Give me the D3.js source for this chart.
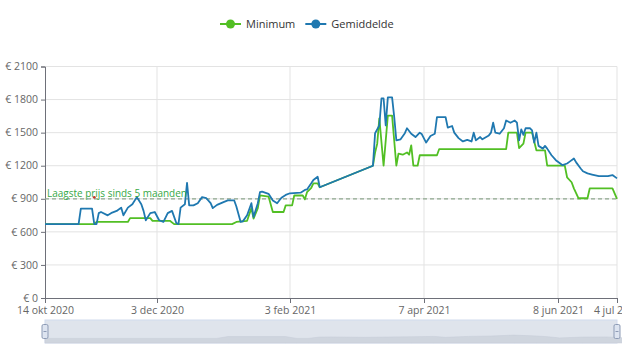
<!DOCTYPE html>
<html>
<head>
<meta charset="utf-8">
<script src="https://cdn.jsdelivr.net/npm/d3@7"></script>
<style>
  body { margin: 0; background: #fff; }
  svg { font-family: "Open Sans", "Noto Sans", sans-serif; }
</style>
</head>
<body>
<div id="chart"></div>
<script>
// series: Minimum
const minDates = ["2020-10-14","2020-11-05","2020-11-06","2020-11-20","2020-11-21","2020-11-30","2020-12-01","2020-12-09","2020-12-11",
  "2021-01-07","2021-01-09","2021-01-14","2021-01-16","2021-01-17","2021-01-19","2021-01-20","2021-01-24","2021-01-26","2021-01-31",
  "2021-02-01","2021-02-04","2021-02-05","2021-02-09","2021-02-10","2021-02-11","2021-02-13","2021-02-14","2021-02-16","2021-02-17",
  "2021-03-14","2021-03-15","2021-03-16","2021-03-17","2021-03-19","2021-03-21","2021-03-23","2021-03-25","2021-03-26","2021-03-28",
  "2021-03-30","2021-03-31","2021-04-01","2021-04-02","2021-04-04","2021-04-05","2021-04-13","2021-04-14","2021-05-15","2021-05-16",
  "2021-05-20","2021-05-21","2021-05-23","2021-05-24","2021-05-27","2021-05-28","2021-05-29","2021-06-02","2021-06-03","2021-06-11",
  "2021-06-12","2021-06-14","2021-06-15","2021-06-17","2021-06-21","2021-06-22","2021-07-02","2021-07-04"];
const minValues = [670,670,690,690,725,725,700,700,670,
  670,690,700,815,720,815,930,920,780,780,
  840,840,930,930,895,960,1000,1040,1040,1005,
  1200,1320,1400,1630,1200,1655,1655,1200,1310,1300,
  1320,1300,1385,1200,1200,1295,1295,1350,1350,1500,
  1500,1360,1400,1500,1500,1420,1340,1340,1200,1200,
  1095,1050,995,905,905,995,995,900];

// series: Gemiddelde
const avgDates = ["2020-10-14","2020-10-29","2020-10-30","2020-11-04","2020-11-05","2020-11-06","2020-11-07","2020-11-08","2020-11-11",
  "2020-11-13","2020-11-15","2020-11-17","2020-11-18","2020-11-20","2020-11-22","2020-11-24","2020-11-26","2020-11-27","2020-11-28",
  "2020-11-30","2020-12-02","2020-12-04","2020-12-06","2020-12-08","2020-12-10","2020-12-12","2020-12-13","2020-12-14","2020-12-16",
  "2020-12-17","2020-12-18","2020-12-20","2020-12-22","2020-12-24","2020-12-26","2020-12-28","2020-12-29","2020-12-31","2021-01-03",
  "2021-01-05","2021-01-08","2021-01-09","2021-01-11","2021-01-12","2021-01-14","2021-01-16","2021-01-17","2021-01-19","2021-01-20",
  "2021-01-21","2021-01-24","2021-01-26","2021-01-28","2021-01-30","2021-02-01","2021-02-03","2021-02-08","2021-02-10","2021-02-11",
  "2021-02-13","2021-02-14","2021-02-16","2021-02-17","2021-03-14","2021-03-15","2021-03-16","2021-03-17","2021-03-18","2021-03-19",
  "2021-03-20","2021-03-21","2021-03-23","2021-03-24","2021-03-25","2021-03-27","2021-03-29","2021-03-30","2021-04-01","2021-04-03",
  "2021-04-05","2021-04-06","2021-04-08","2021-04-10","2021-04-12","2021-04-13","2021-04-17","2021-04-18","2021-04-20","2021-04-21",
  "2021-04-23","2021-04-25","2021-04-27","2021-04-29","2021-04-30","2021-05-01","2021-05-03","2021-05-04","2021-05-07","2021-05-08",
  "2021-05-09","2021-05-10","2021-05-12","2021-05-14","2021-05-15","2021-05-17","2021-05-19","2021-05-20","2021-05-21","2021-05-22",
  "2021-05-23","2021-05-24","2021-05-26","2021-05-27","2021-05-28","2021-05-29","2021-05-30","2021-06-01","2021-06-02","2021-06-03",
  "2021-06-05","2021-06-07","2021-06-09","2021-06-10","2021-06-12","2021-06-13","2021-06-15","2021-06-16","2021-06-18","2021-06-19",
  "2021-06-21","2021-06-23","2021-06-24","2021-06-26","2021-06-30","2021-07-02","2021-07-04"];
const avgValues = [670,670,810,810,670,670,770,780,750,
  775,790,820,750,820,850,915,850,790,705,
  770,780,705,690,770,790,680,670,820,850,
  1045,840,840,860,915,905,860,815,845,870,
  885,885,830,690,695,750,860,735,860,960,
  965,945,885,860,910,935,950,955,980,985,
  1040,1070,1100,1005,1200,1495,1530,1565,1810,1810,
  1565,1820,1820,1640,1430,1440,1495,1540,1490,1460,
  1500,1485,1410,1470,1490,1640,1640,1545,1560,1500,
  1450,1420,1435,1420,1500,1430,1460,1440,1475,1500,
  1590,1500,1490,1540,1610,1590,1610,1590,1430,1530,
  1480,1540,1540,1520,1410,1500,1380,1355,1380,1355,
  1295,1250,1220,1205,1220,1235,1265,1230,1175,1150,
  1130,1120,1115,1105,1105,1115,1085];

const seriesNames = ["Minimum", "Gemiddelde"];
const yTicks = [0, 300, 600, 900, 1200, 1500, 1800, 2100];
const xTickDates = ["2020-10-14", "2020-12-03", "2021-02-03", "2021-04-07", "2021-06-08", "2021-07-04"];
const xTickLabels = ["14 okt 2020", "3 dec 2020", "3 feb 2021", "7 apr 2021", "8 jun 2021", "4 jul 2021"];
const markValue = 900;
const markLabel = "Laagste prijs sinds 5 maanden";
const markDotDate = "2020-11-05";

const green = "#52bf24";
const blue = "#1f78b0";

const width = 640, height = 360;
const parse = d3.timeParse("%Y-%m-%d");

const svg = d3.select("#chart").append("svg")
  .attr("width", width)
  .attr("height", height);

// clip like the original container (last label is cut off)
svg.append("defs").append("clipPath").attr("id", "page")
  .append("rect").attr("width", 622).attr("height", height);
const g = svg.append("g").attr("clip-path", "url(#page)");

// time axis, ticks placed where the original has them
const x = d3.scaleTime()
  .domain(xTickDates.map(parse))
  .range([45, 157, 290, 424, 558, 617]);
const y = d3.scaleLinear().domain([0, 2100]).range([298, 66.5]);

// grid
g.append("g").selectAll("line").data(yTicks.slice(1)).join("line")
  .attr("x1", 45).attr("x2", 617)
  .attr("y1", d => y(d)).attr("y2", d => y(d))
  .attr("stroke", "#e3e3e3");
g.append("g").selectAll("line").data(xTickDates.slice(1)).join("line")
  .attr("x1", d => x(parse(d))).attr("x2", d => x(parse(d)))
  .attr("y1", y(2100)).attr("y2", y(0))
  .attr("stroke", "#e3e3e3");

// axes
const yAxis = g.append("g").attr("transform", "translate(45,0)")
  .call(d3.axisLeft(y).tickValues(yTicks).tickSize(4).tickPadding(3).tickFormat(d => "€ " + d));
const xAxis = g.append("g").attr("transform", `translate(0,${y(0)})`)
  .call(d3.axisBottom(x).tickValues(xTickDates.map(parse)).tickSize(5).tickPadding(4)
    .tickFormat((d, i) => xTickLabels[i]));
[yAxis, xAxis].forEach(a => {
  a.select(".domain").attr("stroke", "#6e7079");
  a.selectAll(".tick line").attr("stroke", "#6e7079");
  a.selectAll("text").attr("fill", "#666").attr("font-size", 10.5)
    .attr("font-family", "Open Sans, sans-serif");
});
yAxis.selectAll("text").attr("dy", "0.3em");

// mark line
g.append("line")
  .attr("x1", 45).attr("x2", 617)
  .attr("y1", y(markValue)).attr("y2", y(markValue))
  .attr("stroke", "#8fa88f").attr("stroke-width", 1.2)
  .attr("stroke-dasharray", "4,3");

const line = d3.line().x(d => x(d[0])).y(d => y(d[1]));

g.append("path")
  .datum(minDates.map((d, i) => [parse(d), minValues[i]]))
  .attr("fill", "none").attr("stroke", green).attr("stroke-width", 1.8)
  .attr("stroke-linejoin", "round")
  .attr("d", line);

g.append("path")
  .datum(avgDates.map((d, i) => [parse(d), avgValues[i]]))
  .attr("fill", "none").attr("stroke", blue).attr("stroke-width", 1.8)
  .attr("stroke-linejoin", "round")
  .attr("d", line);

// label of the mark line, sized to the original's width
const ml = g.append("text")
  .attr("x", 47).attr("y", y(markValue) - 2)
  .attr("fill", "#36a846").attr("font-size", 11)
  .text(markLabel);
const mlw = ml.node().getComputedTextLength();
ml.attr("font-size", 11 * 140 / mlw);

g.append("circle")
  .attr("cx", x(parse(markDotDate))).attr("cy", y(markValue) - 1.5)
  .attr("r", 1.4).attr("fill", "#c0392b");

// legend
const legend = g.append("g");
let lx = 220;
[green, blue].forEach((color, i) => {
  legend.append("line")
    .attr("x1", lx).attr("x2", lx + 21).attr("y1", 24).attr("y2", 24)
    .attr("stroke", color).attr("stroke-width", 2);
  legend.append("circle")
    .attr("cx", lx + 10.5).attr("cy", 24).attr("r", 4.5)
    .attr("fill", color);
  const t = legend.append("text")
    .attr("x", lx + 26).attr("y", 28)
    .attr("fill", "#333").attr("font-size", 11)
    .text(seriesNames[i]);
  lx += 26 + t.node().getComputedTextLength() + 10;
});

// data zoom slider
const sTop = 320, sH = 23;
const sx = d3.scaleTime().domain(x.domain()).range([45, 617]);
const sy = d3.scaleLinear().domain(d3.extent(avgValues)).range([sTop + sH * 0.8, sTop + sH * 0.13]);
g.append("rect")
  .attr("x", 45).attr("y", sTop).attr("width", 572).attr("height", sH)
  .attr("fill", "#dfe4ec").attr("stroke", "#d2dbee");
g.append("path")
  .datum(avgDates.map((d, i) => [parse(d), avgValues[i]]))
  .attr("fill", "#cfd5de")
  .attr("stroke", "#c4cbd6").attr("stroke-width", 0.5)
  .attr("d", d3.area().x(d => sx(d[0])).y0(sTop + sH).y1(d => sy(d[1])));
[45, 617].forEach(hx => {
  g.append("rect")
    .attr("x", hx - 3).attr("y", sTop + sH / 2 - 7).attr("width", 6).attr("height", 14)
    .attr("rx", 1.5)
    .attr("fill", "#dde4f0").attr("stroke", "#8d9bb5").attr("stroke-width", 1);
  g.append("line")
    .attr("x1", hx - 1.5).attr("x2", hx + 1.5)
    .attr("y1", sTop + sH / 2).attr("y2", sTop + sH / 2)
    .attr("stroke", "#8d9bb5");
});
</script>
</body>
</html>
